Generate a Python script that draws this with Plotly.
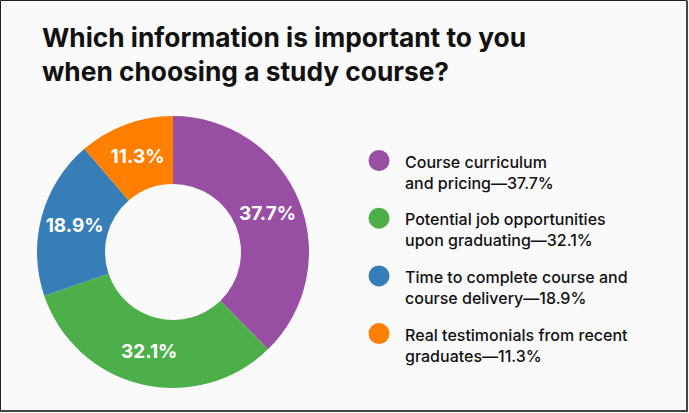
import plotly.graph_objects as go

W, H = 689, 413

title_text = "Which information is important to you<br>when choosing a study course?"
labels = [
    "Course curriculum<br>and pricing",
    "Potential job opportunities<br>upon graduating",
    "Time to complete course and<br>course delivery",
    "Real testimonials from recent<br>graduates",
]
values = [37.7, 32.1, 18.9, 11.3]
colors = ["#984ea3", "#4daf4a", "#377eb8", "#ff7f00"]

FONT = "Inter"

fig = go.Figure()

# Donut
cx, cy, r = 173, 252, 136
fig.add_trace(go.Pie(
    labels=[l.replace("<br>", " ") for l in labels],
    values=values,
    marker=dict(colors=colors, line=dict(width=0)),
    hole=0.5,
    sort=False,
    direction="clockwise",
    rotation=0,
    texttemplate="%{value:.1f}%",
    textposition="inside",
    insidetextorientation="horizontal",
    textfont=dict(family=FONT, size=19, color="white", weight=700),
    domain=dict(x=[(cx - r) / W, (cx + r) / W], y=[(H - cy - r) / H, (H - cy + r) / H]),
    showlegend=False,
    hoverinfo="label+value",
))

# Custom legend: markers on a pixel-mapped axis
leg_x, leg_y0, leg_step = 379, 160.5, 57.7
leg_y = [leg_y0 + i * leg_step for i in range(len(values))]
fig.add_trace(go.Scatter(
    x=[leg_x] * len(values),
    y=leg_y,
    mode="markers",
    marker=dict(size=21, color=colors, line=dict(width=0)),
    showlegend=False,
    hoverinfo="skip",
))

for lab, v, y in zip(labels, values, leg_y):
    fig.add_annotation(
        x=403, y=y, xref="x", yref="y",
        text=f"{lab}—{v:.1f}%",
        showarrow=False, xanchor="left", yanchor="top", yshift=11,
        align="left",
        font=dict(family=FONT, size=16, color="#111111", weight=500),
    )

# Title
fig.add_annotation(
    x=40 / W, y=1 - 20 / H, xref="paper", yref="paper",
    text=title_text, showarrow=False, xanchor="left", yanchor="top", align="left",
    font=dict(family=FONT, size=26.3, color="#111111", weight=700),
)

# Border: thin top/left, heavier right/bottom
fig.add_shape(type="rect", xref="paper", yref="paper",
              x0=0.5 / W, x1=686.5 / W, y0=1 - 410.5 / H, y1=1 - 0.5 / H,
              line=dict(color="#222222", width=1))
fig.add_shape(type="line", xref="paper", yref="paper",
              x0=687 / W, x1=687 / W, y0=1 - 411.5 / H, y1=1 - 0.5 / H,
              line=dict(color="#444444", width=2))
fig.add_shape(type="line", xref="paper", yref="paper",
              x0=0, x1=688 / W, y0=1 - 411 / H, y1=1 - 411 / H,
              line=dict(color="#444444", width=2))

fig.update_layout(
    width=W, height=H,
    margin=dict(l=0, r=0, t=0, b=0),
    paper_bgcolor="#fafafa",
    plot_bgcolor="rgba(0,0,0,0)",
    xaxis=dict(range=[0, W], visible=False, fixedrange=True),
    yaxis=dict(range=[H, 0], visible=False, fixedrange=True),
)

fig.write_html("out.html")
